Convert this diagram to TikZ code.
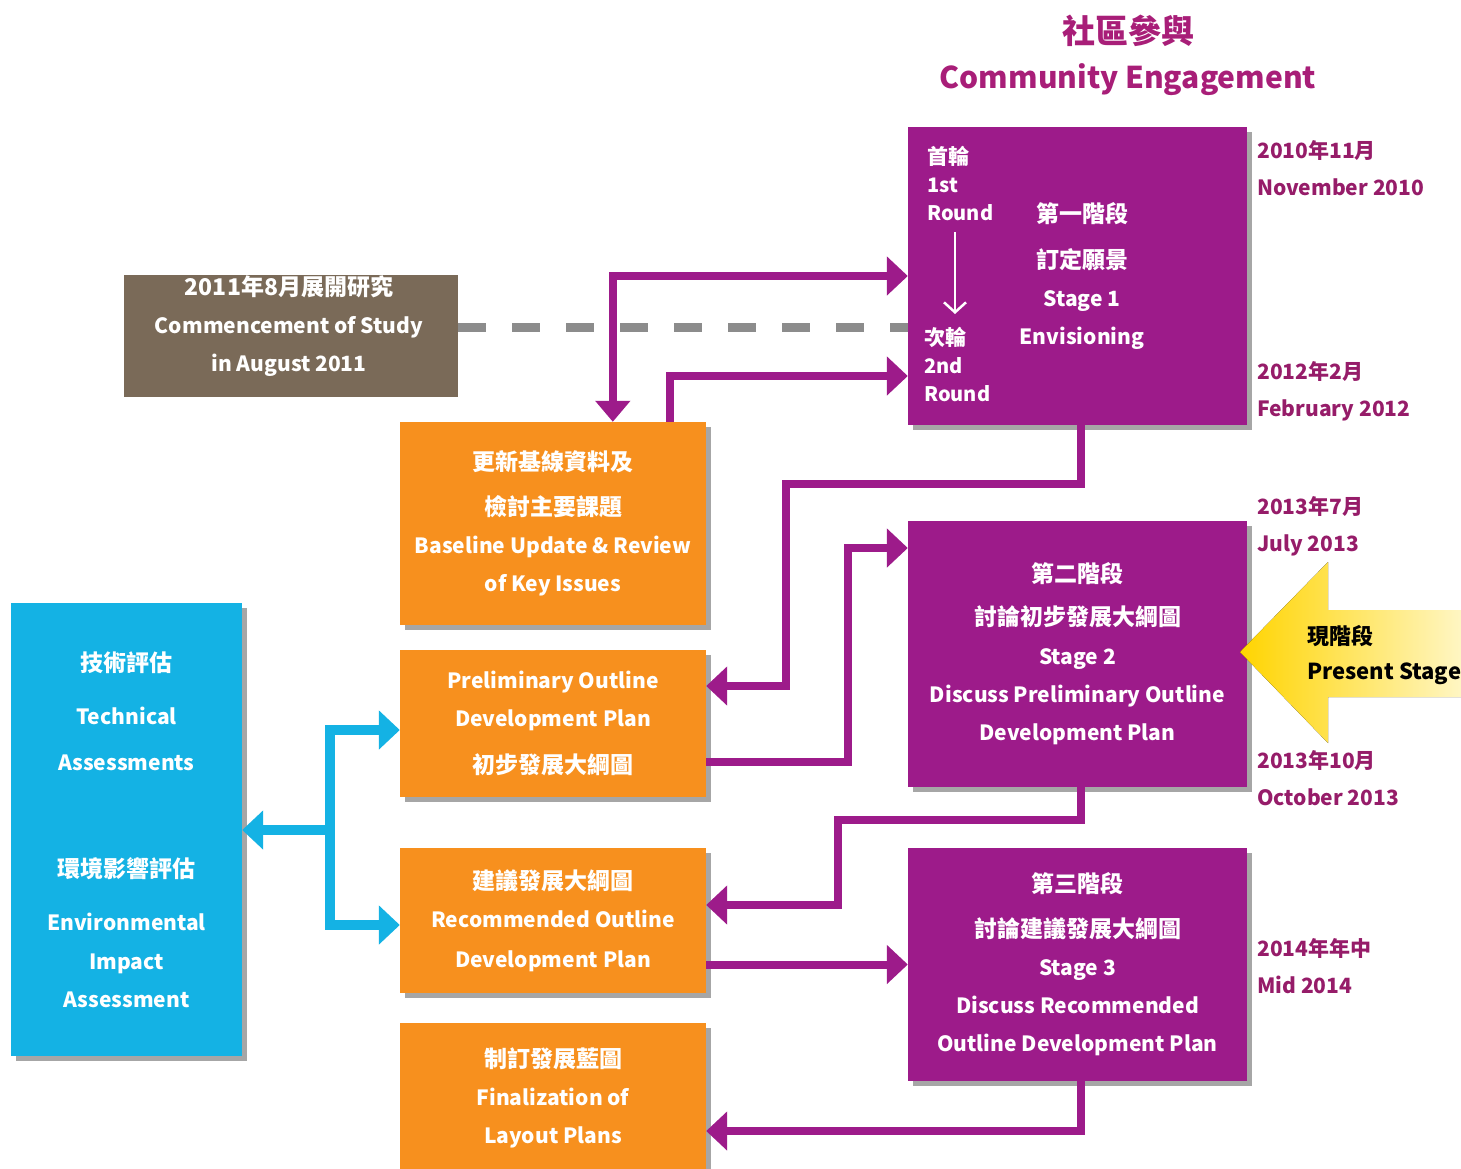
\documentclass[tikz,border=0pt]{standalone}
\usepackage{fontspec}
\setmainfont{Noto Sans CJK TC}
\usetikzlibrary{arrows.meta,shadows,calc}
\definecolor{cpurple}{RGB}{157,27,138}
\definecolor{corange}{RGB}{247,144,30}
\definecolor{cblue}{RGB}{20,178,228}
\definecolor{cbrown}{RGB}{122,106,88}
\definecolor{cdash}{RGB}{140,140,140}
\definecolor{cdate}{RGB}{150,28,105}
\definecolor{ctitle}{RGB}{168,30,120}
\definecolor{ylwA}{RGB}{255,212,0}
\definecolor{ylwB}{RGB}{255,246,195}
\newcommand\boxfont{\bfseries\fontsize{21}{38}\selectfont}
\newcommand\zh[1]{{\fontsize{23}{38}\selectfont #1}}
\newcommand\roundfont{\bfseries\fontsize{20}{28}\selectfont}
\newcommand\datefont{\bfseries\fontsize{21}{37}\selectfont}
\newcommand\titlefont{\bfseries\fontsize{30}{45}\selectfont}
\newcommand\presentfont{\bfseries\fontsize{22}{35}\selectfont}
\tikzset{
  box/.style={rectangle, inner sep=0pt, align=center, text=white, font=\boxfont,
    drop shadow={shadow xshift=5pt, shadow yshift=-5pt, opacity=0.35, fill=black}},
  pbox/.style={box, fill=cpurple},
  obox/.style={box, fill=corange},
  cbox/.style={box, fill=cblue},
  bbox/.style={rectangle, inner sep=0pt, fill=cbrown},
  wtext/.style={inner sep=0pt, align=center, text=white, font=\boxfont},
  rtext/.style={inner sep=0pt, align=left, anchor=west, text=white, font=\roundfont},
  dtext/.style={inner sep=0pt, align=left, anchor=west, text=cdate, font=\datefont},
  Tri/.tip={Triangle[width=38pt,length=21pt]},
  pline/.style={draw=cpurple, line width=8pt},
  bline/.style={draw=cblue, line width=10pt},
  dashline/.style={draw=cdash, line width=9pt, dash pattern=on 28pt off 26pt},
}
\begin{document}
\begin{tikzpicture}[x=1pt,y=-1pt]
\useasboundingbox (0,0) rectangle (1461,1168);
\fill[white] (0,0) rectangle (1461,1168);

% title
\node[inner sep=0pt, align=center, text=ctitle, font=\titlefont] (title) at (1128,55)
  {{\fontsize{33}{45}\selectfont 社區參與}\\Community Engagement};

% boxes
\node[pbox, minimum width=339pt, minimum height=298pt] (s1) at (1077.5,276) {};
\node[pbox, minimum width=339pt, minimum height=266pt] (s2) at (1077.5,654)
  {\zh{第二階段}\\[5pt]\zh{討論初步發展大綱圖}\\[1pt]Stage 2\\Discuss Preliminary Outline\\Development Plan};
\node[pbox, minimum width=339pt, minimum height=233pt] (s3) at (1077.5,964.5)
  {\zh{第三階段}\\[7pt]\zh{討論建議發展大綱圖}\\Stage 3\\Discuss Recommended\\Outline Development Plan};
\node[bbox, minimum width=334pt, minimum height=122pt] (brown) at (291,336) {};
\node[wtext] (browntxt) at (289,326.5) {\zh{2011年8月展開研究}\\Commencement of Study\\in August 2011};
\node[obox, minimum width=306pt, minimum height=203pt] (base) at (553,523.5)
  {\zh{更新基線資料及}\\[7pt]\zh{檢討主要課題}\\Baseline Update \& Review\\of Key Issues};
\node[obox, minimum width=306pt, minimum height=147pt] (pre) at (553,723.5)
  {Preliminary Outline\\Development Plan\\[9pt]\zh{初步發展大綱圖}};
\node[obox, minimum width=306pt, minimum height=145pt] (rec) at (553,920.5)
  {\zh{建議發展大綱圖}\\Recommended Outline\\[2pt]Development Plan};
\node[obox, minimum width=306pt, minimum height=150pt] (fin) at (553,1098)
  {\zh{制訂發展藍圖}\\Finalization of\\Layout Plans};
\node[cbox, minimum width=231pt, minimum height=453pt] (blue) at (126.5,829.5)
  {\zh{技術評估}\\[15pt]Technical\\[8pt]Assessments\\[69pt]\zh{環境影響評估}\\[15pt]Environmental\\[1pt]Impact\\Assessment};

% stage 1 texts
\node[rtext] (r1) at (927,183) {{\fontsize{21}{28}\selectfont 首輪}\\1st\\Round};
\node[rtext] (r2) at (924,364) {{\fontsize{21}{28}\selectfont 次輪}\\2nd\\Round};
\coordinate (ra) at (955,232);
\coordinate (rb) at (955,314);
\draw[white, line width=2.5pt, -{Straight Barb[length=10pt,width=22pt,line width=2.5pt]}] (ra) -- (rb);
\node[wtext] (s1txt) at (1082,275.5) {\zh{第一階段}\\[8pt]\zh{訂定願景}\\Stage 1\\Envisioning};

% dates
\node[dtext] (d1) at (1257,168.5) {2010年11月\\November 2010};
\node[dtext] (d2) at (1257,391.5) {2012年2月\\February 2012};
\node[dtext] (d3) at (1257,526) {2013年7月\\July 2013};
\node[dtext] (d4) at (1257,778.5) {2013年10月\\October 2013};
\node[dtext] (d5) at (1257,966) {2014年年中\\Mid 2014};

% present stage arrow
\fill[left color=ylwA, right color=ylwB] (1240,652) -- (1328,562) -- (1328,610) -- (1461,610) -- (1461,697) -- (1328,697) -- (1328,743) -- cycle;
\node[inner sep=0pt, align=left, anchor=west, text=black, font=\presentfont] (present) at (1307,655.5) {現階段\\Present Stage};

% dashed line
\coordinate (dy) at (0,327);
\draw[dashline] (brown.east |- dy) -- (s1.west |- dy);

% purple connectors
\draw[pline, {Triangle[width=34pt,length=21pt]}-Tri] ([xshift=213pt]base.north west) |- (s1.west);
\draw[pline, -Tri] ([xshift=270pt]base.north west) |- ([yshift=-100pt]s1.west);
\coordinate (k3) at (786,484);
\draw[pline, -Tri] ([xshift=3.5pt]s1.south) |- (k3) |- ([yshift=37.5pt]pre.east);
\coordinate (k4) at (848,548);
\draw[pline, -Tri] ([yshift=-38.5pt]pre.east) -| (k4) -- (s2.west |- k4);
\coordinate (k5) at (838,820);
\draw[pline, -Tri] ([xshift=3.5pt]s2.south) |- (k5) |- ([yshift=15.5pt]rec.east);
\draw[pline, -Tri] (rec.east |- s3.west) -- (s3.west);
\draw[pline, -Tri] ([xshift=3.5pt]s3.south) |- ([yshift=-33pt]fin.east);

% blue connectors
\coordinate (bj) at (330,830);
\draw[bline, Tri-Tri] ([yshift=-6.5pt]pre.west) -| (bj) |- ([yshift=-4.5pt]rec.west);
\draw[bline, -Tri] (bj) -- (blue.east |- bj);
\end{tikzpicture}
\end{document}
